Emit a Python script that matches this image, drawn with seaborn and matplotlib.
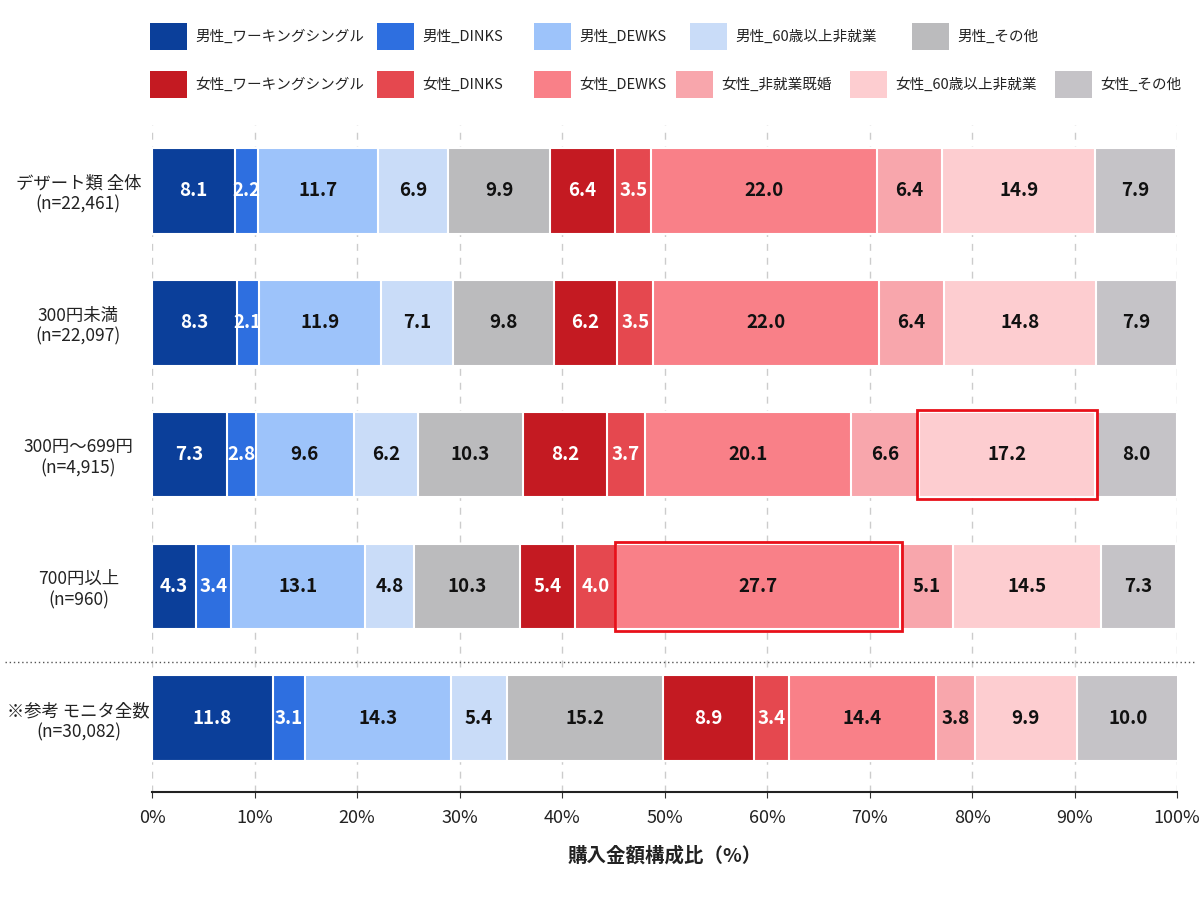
import pandas as pd
import numpy as np
import matplotlib
matplotlib.use("Agg")
import matplotlib.pyplot as plt
from matplotlib.patches import Rectangle
import seaborn as sns

# data
rows = ['デザート類 全体\n(n=22,461)', '300円未満\n(n=22,097)', '300円～699円\n(n=4,915)',
        '700円以上\n(n=960)', '※参考 モニタ全数\n(n=30,082)']
segments = ['男性_ワーキングシングル', '男性_DINKS', '男性_DEWKS', '男性_60歳以上非就業', '男性_その他',
            '女性_ワーキングシングル', '女性_DINKS', '女性_DEWKS', '女性_非就業既婚', '女性_60歳以上非就業', '女性_その他']
row_all = [8.1, 2.2, 11.7, 6.9, 9.9, 6.4, 3.5, 22.0, 6.4, 14.9, 7.9]
row_u300 = [8.3, 2.1, 11.9, 7.1, 9.8, 6.2, 3.5, 22.0, 6.4, 14.8, 7.9]
row_300_699 = [7.3, 2.8, 9.6, 6.2, 10.3, 8.2, 3.7, 20.1, 6.6, 17.2, 8.0]
row_700 = [4.3, 3.4, 13.1, 4.8, 10.3, 5.4, 4.0, 27.7, 5.1, 14.5, 7.3]
row_monitor = [11.8, 3.1, 14.3, 5.4, 15.2, 8.9, 3.4, 14.4, 3.8, 9.9, 10.0]

colors = ['#0B3F9A', '#2E6FE0', '#9DC3FA', '#C9DCF8', '#BBBBBD',
          '#C41A22', '#E5484F', '#F98088', '#F8A6AC', '#FDCDD0', '#C5C3C7']
white_text = ['男性_ワーキングシングル', '男性_DINKS', '女性_ワーキングシングル', '女性_DINKS']
highlights = [('300円～699円\n(n=4,915)', '女性_60歳以上非就業'), ('700円以上\n(n=960)', '女性_DEWKS')]

plt.rcParams['font.family'] = ['Noto Sans CJK JP', 'DejaVu Sans']

# long table with cumulative ends
records = []
for r, vals in zip(rows, [row_all, row_u300, row_300_699, row_700, row_monitor]):
    cum = np.cumsum(vals)
    for s, v, c in zip(segments, vals, cum):
        records.append({'row': r, 'segment': s, 'value': v, 'end': c, 'start': c - v})
df = pd.DataFrame(records)

fig = plt.figure(figsize=(12, 9), dpi=100)
ax = fig.add_axes([0.1267, 0.12, 0.8542, 0.741])

# stacked bars: draw cumulative totals from the last segment back to the first
for s, col in reversed(list(zip(segments, colors))):
    sub = df[df['segment'] == s]
    sns.barplot(data=sub, x='end', y='row', order=rows, orient='h', color=col, saturation=1,
                width=0.65, edgecolor='white', linewidth=1.5, ax=ax, zorder=2)

for _, rec in df.iterrows():
    yi = rows.index(rec['row'])
    tc = 'white' if rec['segment'] in white_text else '#111111'
    ax.text(rec['start'] + rec['value'] / 2, yi, f"{rec['value']:.1f}", ha='center', va='center',
            fontsize=13.5, color=tc, fontweight='bold', zorder=4)

for r, s in highlights:
    rec = df[(df['row'] == r) & (df['segment'] == s)].iloc[0]
    yi = rows.index(r)
    ax.add_patch(Rectangle((rec['start'] - 0.15, yi - 0.34), rec['value'] + 0.3, 0.68,
                           fill=False, edgecolor='#E8101A', linewidth=2, zorder=5))

ax.set_xlim(0, 100)
ax.set_ylim(4.56, -0.5)
ax.set_xticks(range(0, 101, 10))
ax.set_xticklabels([f'{t}%' for t in range(0, 101, 10)], fontsize=13, color='#222222')
ax.tick_params(axis='x', length=4, color='#333333', pad=8)
ax.tick_params(axis='y', length=0, pad=53)
for lab in ax.get_yticklabels():
    lab.set_ha('center')
    lab.set_multialignment('center')
    lab.set_fontsize(12.5)
    lab.set_color('#222222')
ax.set_ylabel('')
ax.set_xlabel('購入金額構成比（%）', fontsize=14, fontweight='bold', labelpad=14, color='#222222')
ax.grid(axis='x', linestyle=(0, (5, 5)), color='#CCCCCC', linewidth=1)
ax.set_axisbelow(True)
for sp in ['top', 'right', 'left']:
    ax.spines[sp].set_visible(False)
ax.spines['bottom'].set_color('#222222')
ax.spines['bottom'].set_linewidth(1.5)

# dotted separator before the reference row
trans = matplotlib.transforms.blended_transform_factory(fig.transFigure, ax.transData)
ax.plot([0.004, 0.996], [3.57, 3.57], transform=trans, color='#555555', linestyle=(0, (1, 2)),
        linewidth=1, clip_on=False)

# legend in two rows
leg_x = [[150, 377, 534, 690, 912], [150, 377, 534, 676, 850, 1055]]
leg_y = [37, 85]
idx = 0
for row_i, xs in enumerate(leg_x):
    for x in xs:
        fig.patches.append(Rectangle((x / 1200, 1 - (leg_y[row_i] + 13) / 900), 37 / 1200, 27 / 900,
                                     transform=fig.transFigure, facecolor=colors[idx], edgecolor='none'))
        fig.text((x + 45) / 1200, 1 - leg_y[row_i] / 900, segments[idx], ha='left', va='center',
                 fontsize=10.5, color='#222222')
        idx += 1

fig.savefig('out.png', dpi=100)
